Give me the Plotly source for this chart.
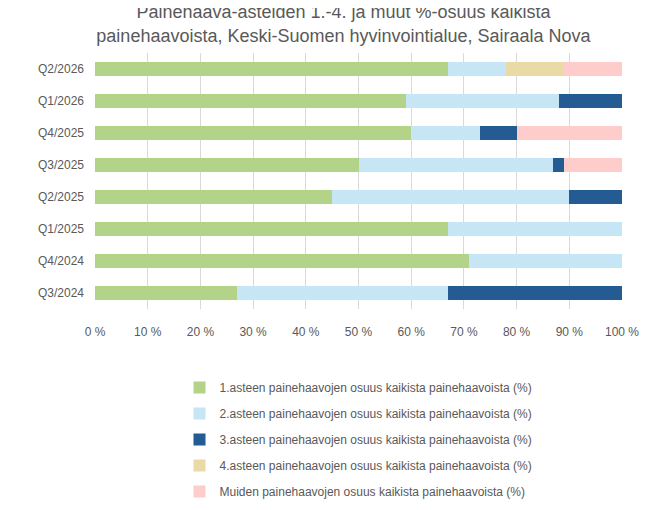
import plotly.graph_objects as go

quarters = ["Q3/2024", "Q4/2024", "Q1/2025", "Q2/2025", "Q3/2025", "Q4/2025", "Q1/2026", "Q2/2026"]
aste1 = [27, 71, 67, 45, 50, 60, 59, 67]
aste2 = [40, 29, 33, 45, 37, 13, 29, 11]
aste3 = [33, 0, 0, 10, 2, 7, 12, 0]
aste4 = [0, 0, 0, 0, 0, 0, 0, 11]
muut = [0, 0, 0, 0, 11, 20, 0, 11]

series = [
    ("1.asteen painehaavojen osuus kaikista painehaavoista (%)", aste1, "#b3d388"),
    ("2.asteen painehaavojen osuus kaikista painehaavoista (%)", aste2, "#c6e6f5"),
    ("3.asteen painehaavojen osuus kaikista painehaavoista (%)", aste3, "#245b92"),
    ("4.asteen painehaavojen osuus kaikista painehaavoista (%)", aste4, "#eadba6"),
    ("Muiden painehaavojen osuus kaikista painehaavoista (%)", muut, "#ffcccc"),
]

fig = go.Figure()
for i, (name, vals, col) in enumerate(series):
    fig.add_trace(go.Bar(y=quarters, x=vals, name=name, orientation="h",
                         marker=dict(color=col, line=dict(width=0)), legendgroup=str(i)))

fig.update_layout(
    barmode="stack", bargap=0.55, width=671, height=510,
    plot_bgcolor="white", paper_bgcolor="white",
    font=dict(family="Liberation Sans, Arial", color="#595959", size=12),
    margin=dict(l=87, r=57, t=45, b=180),
    title=dict(text="Painehaava-asteiden 1.-4. ja muut %-osuus kaikista<br>painehaavoista, Keski-Suomen hyvinvointialue, Sairaala Nova",
               x=0.5, xanchor="center", y=0.98, yanchor="middle", yref="container",
               font=dict(size=18, color="#595959")),
    xaxis=dict(range=[0, 100], dtick=10, ticksuffix=" %", showgrid=True, gridcolor="#d9d9d9",
               zeroline=False, ticks="", tickfont=dict(size=12), automargin=False,
               ticklabelstandoff=14),
    yaxis=dict(showgrid=False, ticks="", tickfont=dict(size=12), automargin=False,
               ticklabelstandoff=10),
    legend=dict(orientation="v", x=0.5, xanchor="center", y=-0.25, yanchor="top",
                traceorder="grouped", tracegroupgap=7, font=dict(size=12)),
    showlegend=True,
)
fig.write_html("out.html")
